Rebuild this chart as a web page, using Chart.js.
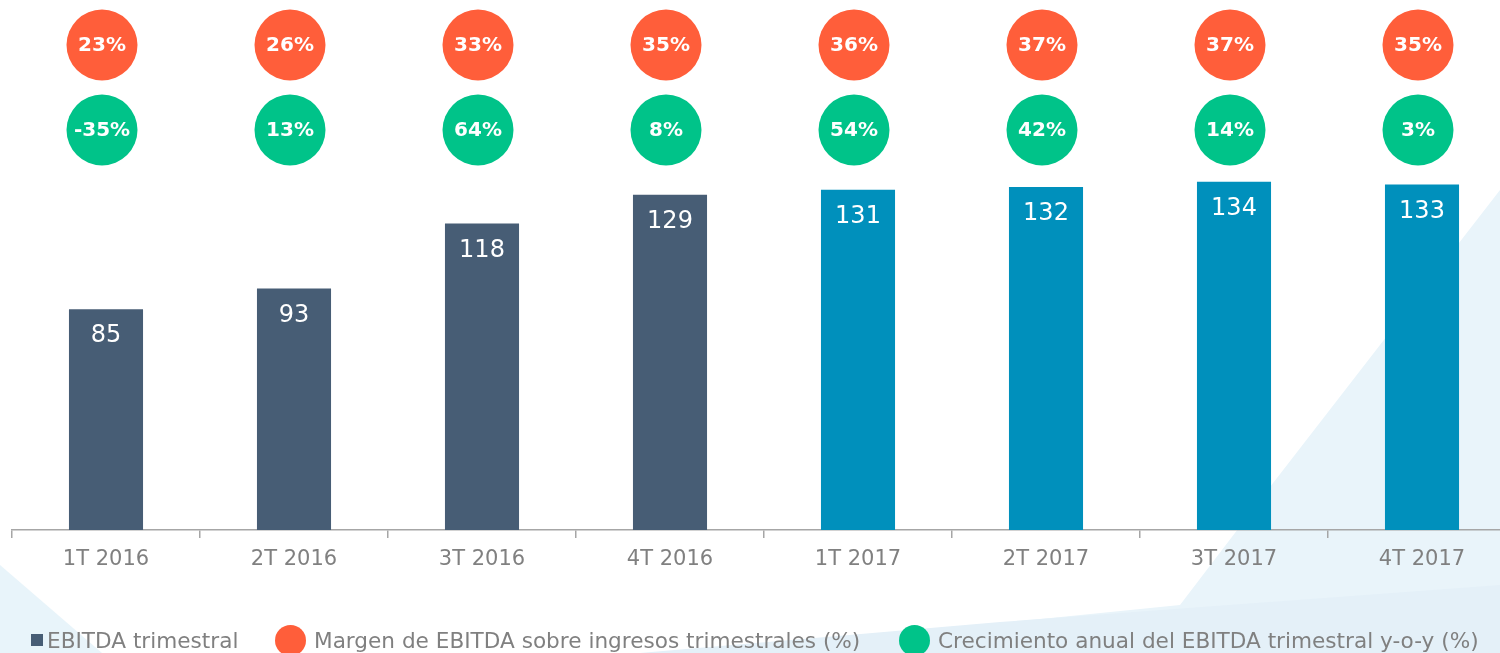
<!DOCTYPE html>
<html>
<head>
<meta charset="utf-8">
<script src="https://cdn.jsdelivr.net/npm/chart.js@4.4.0/dist/chart.umd.min.js"></script>
<style>
  html, body { margin: 0; padding: 0; background: #fff; overflow: hidden; width: 1500px; height: 653px; }
  #wrap { position: relative; width: 1516px; height: 653px; }
  #bg { position: absolute; left: 0; top: 0; }
  #chart { position: absolute; left: 0; top: 0; }
  .leg { position: absolute; top: 625px; height: 30px; display: flex; align-items: center;
         font-family: "DejaVu Sans", Verdana, sans-serif; font-size: 21.6px; color: #808080; white-space: nowrap; }
  .leg .sq { width: 12px; height: 12px; background: #475d75; margin-right: 4px; }
  .leg .dot { width: 31px; height: 31px; border-radius: 50%; margin-right: 8px; }
</style>
</head>
<body>
<div id="wrap">
  <svg id="bg" width="1516" height="653">
    <polygon points="0,565 0,653 102,653" fill="#e8f4fa"/>
    <polygon points="1500,190 1500,653 700,653 1180,605 1270,487" fill="#e9f4fa"/>
    <polygon points="1500,585 1500,653 640,653 1000,622" fill="#e4f0f8"/>
  </svg>
  <canvas id="chart" width="1516" height="653"></canvas>
  <div class="leg" style="left:31px"><div class="sq"></div><span>EBITDA trimestral</span></div>
  <div class="leg" style="left:275px"><div class="dot" style="background:#ff5e3a"></div><span>Margen de EBITDA sobre ingresos trimestrales (%)</span></div>
  <div class="leg" style="left:899px"><div class="dot" style="background:#00c389"></div><span>Crecimiento anual del EBITDA trimestral y-o-y (%)</span></div>
</div>
<script>
// Datos
const categories = ['1T 2016', '2T 2016', '3T 2016', '4T 2016', '1T 2017', '2T 2017', '3T 2017', '4T 2017'];
const ebitda = [85, 93, 118, 129, 131, 132, 134, 133];
const margen = [23, 26, 33, 35, 36, 37, 37, 35];
const crecimiento = [-35, 13, 64, 8, 54, 42, 14, 3];

const COLOR_2016 = '#475d75';
const COLOR_2017 = '#0090bc';
const COLOR_MARGEN = '#ff5e3a';
const COLOR_CREC = '#00c389';
const FONT = '"DejaVu Sans", Verdana, sans-serif';

const barColors = categories.map(c => c.endsWith('2016') ? COLOR_2016 : COLOR_2017);

// Etiquetas dentro de las barras y círculos superiores
const overlayPlugin = {
    id: 'overlay',
    afterDatasetsDraw(chart) {
        const ctx = chart.ctx;
        const meta = chart.getDatasetMeta(0);
        const xScale = chart.scales.x;
        ctx.save();
        ctx.textAlign = 'center';
        ctx.textBaseline = 'middle';

        // valores de las barras
        ctx.fillStyle = '#ffffff';
        ctx.font = '24px ' + FONT;
        meta.data.forEach((bar, i) => {
            ctx.fillText(String(ebitda[i]), bar.x, bar.y + 27);
        });

        // círculos
        const rows = [
            { values: margen, color: COLOR_MARGEN, y: 45 },
            { values: crecimiento, color: COLOR_CREC, y: 130 }
        ];
        rows.forEach(row => {
            row.values.forEach((v, i) => {
                const x = xScale.getPixelForValue(i) - 4;
                ctx.beginPath();
                ctx.arc(x, row.y, 35.5, 0, Math.PI * 2);
                ctx.fillStyle = row.color;
                ctx.fill();
                ctx.fillStyle = '#ffffff';
                ctx.font = 'bold 20px ' + FONT;
                ctx.fillText(v + '%', x, row.y + 1);
            });
        });
        ctx.restore();
    }
};

new Chart(document.getElementById('chart'), {
    type: 'bar',
    data: {
        labels: categories,
        datasets: [{
            label: 'EBITDA trimestral',
            data: ebitda,
            backgroundColor: barColors,
            categoryPercentage: 1,
            barPercentage: 0.394
        }]
    },
    options: {
        responsive: false,
        animation: false,
        layout: { padding: { left: 12, right: 0, top: 0, bottom: 0 } },
        plugins: {
            legend: { display: false },
            tooltip: { enabled: false }
        },
        scales: {
            x: {
                afterFit(scale) { scale.height = 123; },
                border: { color: '#a6a6a6', width: 1.5 },
                grid: {
                    offset: true,
                    drawOnChartArea: false,
                    tickLength: 8,
                    color: '#a6a6a6',
                    lineWidth: 1.5
                },
                ticks: {
                    padding: 9,
                    color: '#808080',
                    font: { family: FONT, size: 21 }
                }
            },
            y: {
                display: false,
                min: 0,
                max: 204
            }
        }
    },
    plugins: [overlayPlugin]
});
</script>
</body>
</html>
